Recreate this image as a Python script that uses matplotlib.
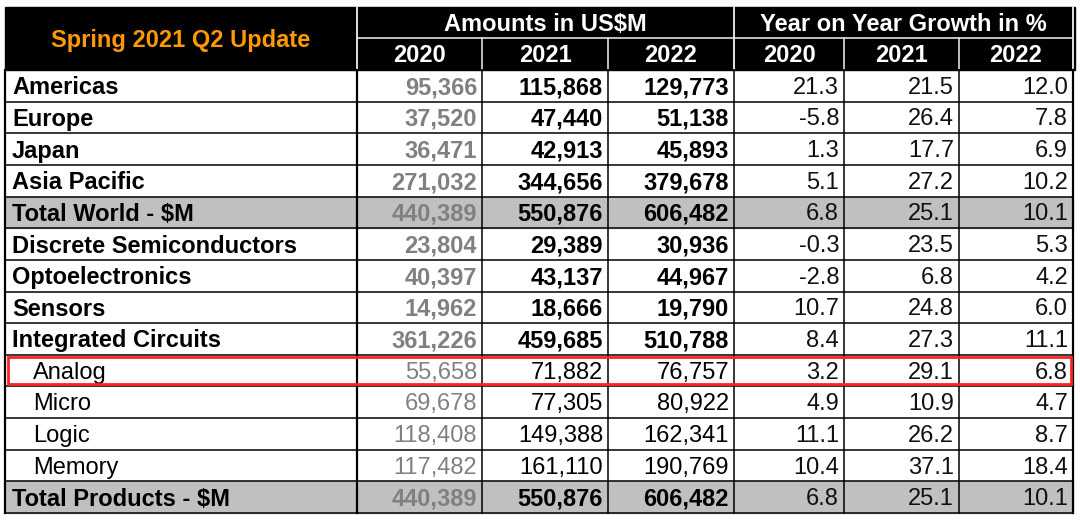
import matplotlib.pyplot as plt
from matplotlib.patches import Rectangle

plt.rcParams['font.family'] = ['Liberation Sans', 'DejaVu Sans']

# 表格数据
rows = ["Americas", "Europe", "Japan", "Asia Pacific", "Total World - $M",
        "Discrete Semiconductors", "Optoelectronics", "Sensors", "Integrated Circuits",
        "Analog", "Micro", "Logic", "Memory", "Total Products - $M"]
amt_2020 = [95366, 37520, 36471, 271032, 440389, 23804, 40397, 14962, 361226,
            55658, 69678, 118408, 117482, 440389]
amt_2021 = [115868, 47440, 42913, 344656, 550876, 29389, 43137, 18666, 459685,
            71882, 77305, 149388, 161110, 550876]
amt_2022 = [129773, 51138, 45893, 379678, 606482, 30936, 44967, 19790, 510788,
            76757, 80922, 162341, 190769, 606482]
yoy_2020 = [21.3, -5.8, 1.3, 5.1, 6.8, -0.3, -2.8, 10.7, 8.4, 3.2, 4.9, 11.1, 10.4, 6.8]
yoy_2021 = [21.5, 26.4, 17.7, 27.2, 25.1, 23.5, 6.8, 24.8, 27.3, 29.1, 10.9, 26.2, 37.1, 25.1]
yoy_2022 = [12.0, 7.8, 6.9, 10.2, 10.1, 5.3, 4.2, 6.0, 11.1, 6.8, 4.7, 8.7, 18.4, 10.1]
years = ["2020", "2021", "2022"]
title = "Spring 2021 Q2 Update"
group_titles = ["Amounts in US$M", "Year on Year Growth in %"]
sub_rows = ["Analog", "Micro", "Logic", "Memory"]
total_rows = ["Total World - $M", "Total Products - $M"]
highlight = "Analog"

W, H = 1080, 523
fig = plt.figure(figsize=(W / 100, H / 100), dpi=100)
ax = fig.add_axes([0, 0, 1, 1])
ax.set_xlim(0, W)
ax.set_ylim(H, 0)
ax.axis('off')

# 像素坐标布局
xs = [5, 357, 482, 608, 734, 844, 959, 1073]
y_top, y_mid, y_head = 7, 38, 70
y_bot = 513
rh = (y_bot - y_head) / len(rows)
fs = 17
orange = '#FF9900'
gray_txt = '#808080'

# 表头
ax.add_patch(Rectangle((xs[0], y_top), xs[-1] - xs[0] + 2, y_head - y_top, color='black', zorder=1))
ax.text((xs[0] + xs[1]) / 2, (y_top + y_head) / 2 + 2, title, color=orange, fontsize=fs,
        fontweight='bold', ha='center', va='center')
ax.plot([xs[1], xs[-1]], [y_mid, y_mid], color='#e0e0e0', lw=1.2, zorder=2)
for x in [xs[1], xs[4], xs[-1]]:
    ax.plot([x, x], [y_top, y_head], color='#e0e0e0', lw=1.4, zorder=2)
for x in xs[2:-1]:
    ax.plot([x, x], [y_mid, y_head], color='#e0e0e0', lw=1.2, zorder=2)
ax.text((xs[1] + xs[4]) / 2, (y_top + y_mid) / 2 + 2, group_titles[0], color='white',
        fontsize=fs, fontweight='bold', ha='center', va='center')
ax.text((xs[4] + xs[7]) / 2, (y_top + y_mid) / 2 + 2, group_titles[1], color='white',
        fontsize=fs, fontweight='bold', ha='center', va='center')
for j in range(6):
    ax.text((xs[j + 1] + xs[j + 2]) / 2, (y_mid + y_head) / 2 + 2, years[j % 3], color='white',
            fontsize=fs, fontweight='bold', ha='center', va='center')

# 表体
cols = [amt_2020, amt_2021, amt_2022, yoy_2020, yoy_2021, yoy_2022]
for i, name in enumerate(rows):
    y0 = y_head + i * rh
    yc = y0 + rh / 2 + 2
    if name in total_rows:
        ax.add_patch(Rectangle((xs[0], y0), xs[-1] - xs[0], rh, color='#C0C0C0', zorder=0))
    sub = name in sub_rows
    wt = 'normal' if sub else 'bold'
    ax.text(xs[0] + (28 if sub else 7), yc, name, fontsize=fs, fontweight=wt,
            ha='left', va='center', color='black')
    for j, col in enumerate(cols):
        v = col[i]
        if j < 3:
            s = f"{v:,}"
            c = gray_txt if j == 0 else 'black'
            w = wt
        else:
            s = f"{v:.1f}"
            c = '#111111'
            w = 'normal'
        ax.text(xs[j + 2] - 5, yc, s, fontsize=fs, fontweight=w, color=c,
                ha='right', va='center')
    # 行线
    ax.plot([xs[0], xs[-1]], [y0 + rh, y0 + rh], color='black', lw=1.1, zorder=3)

# 竖线
for k, x in enumerate(xs):
    ax.plot([x, x], [y_head, y_bot], color='black', lw=1.6 if k in (0, 1, 7) else 1.1, zorder=3)
ax.plot([xs[0], xs[-1]], [y_head, y_head], color='black', lw=1.1, zorder=3)

# 红框高亮
hi = rows.index(highlight)
ax.add_patch(Rectangle((8, y_head + hi * rh + 2), 1063, rh - 4, fill=False,
                       edgecolor='#FF2222', lw=2.0, zorder=4))

fig.savefig('out.png', dpi=100, facecolor='white')
